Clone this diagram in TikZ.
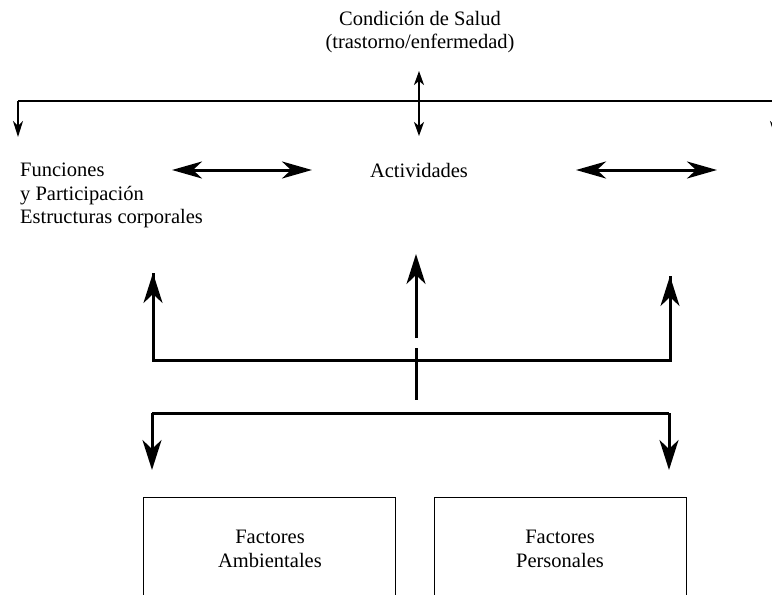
\documentclass[tikz,border=0pt]{standalone}
\usepackage{fontspec}
\setmainfont{Liberation Serif}
\usetikzlibrary{arrows.meta}
\begin{document}
\begin{tikzpicture}[x=1pt,y=-1pt,
  txt/.style={font=\fontsize{20.5}{23.5}\selectfont, inner sep=0pt, align=center},
  ltxt/.style={font=\fontsize{20.5}{23.5}\selectfont, inner sep=0pt, align=left, anchor=north west},
  bigline/.style={line width=3pt},
  bigarrow/.style={line width=3pt, -{Stealth[length=30pt,width=19pt,inset=9pt]}},
  hdarrow/.style={line width=3pt, {Stealth[length=30pt,width=17pt,inset=9pt]}-{Stealth[length=30pt,width=17pt,inset=9pt]}},
  smalld/.style={line width=2pt, {Stealth[length=14pt,width=10pt,inset=4pt]}-{Stealth[length=14pt,width=10pt,inset=4pt]}},
  smalla/.style={line width=2pt, -{Stealth[length=16pt,width=10pt,inset=5pt]}},
  factbox/.style={draw, line width=1pt, minimum width=252pt, minimum height=120pt, anchor=north west, inner sep=0pt}
]
\useasboundingbox (0,0) rectangle (772,595);
\clip (0,0) rectangle (772,595);

% texts
\node[txt] (salud) at (420,32) {Condición de Salud\\(trastorno/enfermedad)};
\node[ltxt] (func) at (20,163) {Funciones\\y Participación\\Estructuras corporales};
\node[txt] (act) at (419,170) {Actividades};

% top connection
\coordinate (tA) at (419,71);
\coordinate (tB) at (419,136);
\draw[smalld] (tA) -- (tB);
\coordinate (hl) at (18,101);
\coordinate (hr) at (775,101);
\coordinate (hlD) at (18,137);
\coordinate (hrD) at (775,137);
\draw[line width=2.2pt] (hl) -- (hr);
\draw[smalla] (hl) -- (hlD);
\draw[smalla] (hr) -- (hrD);

% horizontal double arrows
\coordinate (d1a) at (172,170);
\coordinate (d1b) at (312,170);
\coordinate (d2a) at (576,170);
\coordinate (d2b) at (717,170);
\draw[hdarrow] (d1a) -- (d1b);
\draw[hdarrow] (d2a) -- (d2b);

% up arrows
\coordinate (uL0) at (153,360);
\coordinate (uL1) at (153,273);
\coordinate (uR0) at (670,360);
\coordinate (uR1) at (670,276);
\coordinate (uM0) at (416,338);
\coordinate (uM1) at (416,254);
\draw[bigline, line join=miter] (uL1) -- (uL0) -- (uR0) -- (uR1);
\draw[bigarrow] (uL0) -- (uL1);
\draw[bigarrow] (uR0) -- (uR1);
\draw[bigarrow] (uM0) -- (uM1);

% middle stub
\coordinate (s0) at (416,348);
\coordinate (s1) at (416,400);
\draw[bigline] (s0) -- (s1);

% down arrows
\coordinate (dL0) at (152,413);
\coordinate (dL1) at (152,470);
\coordinate (dR0) at (669,413);
\coordinate (dR1) at (669,470);
\draw[bigline, line join=miter] (dL0) -- (dR0);
\draw[bigarrow] (dL0) -- (dL1);
\draw[bigarrow] (dR0) -- (dR1);

% boxes
\node[factbox] (amb) at (143,497) {};
\node[factbox] (per) at (434,497) {};
\node[txt] (ambt) at (270,549) {Factores\\Ambientales};
\node[txt] (pert) at (560,549) {Factores\\Personales};
\end{tikzpicture}
\end{document}
